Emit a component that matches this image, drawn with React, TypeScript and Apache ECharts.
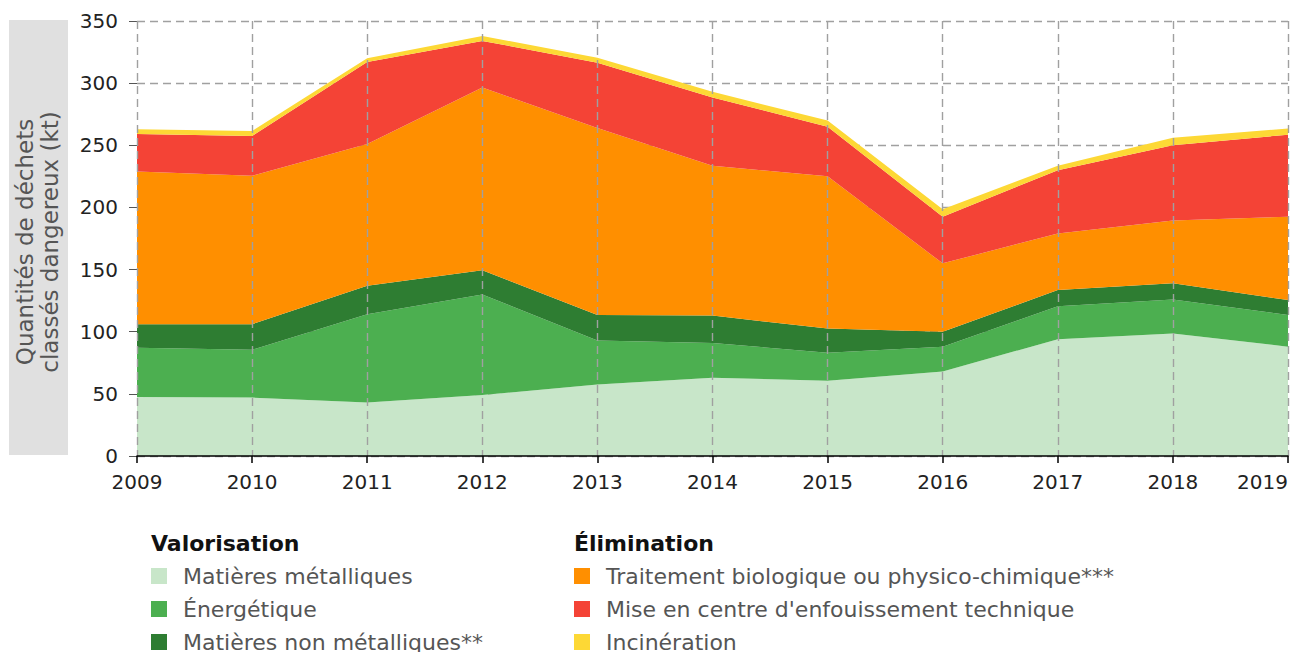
import React, { useEffect, useRef } from "react";
import * as echarts from "echarts";

const years = ["2009", "2010", "2011", "2012", "2013", "2014", "2015", "2016", "2017", "2018", "2019"];
const metalliques = [47.5, 47, 43, 49, 57.5, 63, 60.5, 68, 94, 98.5, 88];
const energetique = [39.5, 38.5, 71, 81, 35.5, 28, 22.5, 20, 26.5, 27.5, 25.5];
const nonMetalliques = [19, 20.5, 23, 19.5, 20.5, 22, 19.5, 12, 13, 13, 12];
const traitement = [123, 119.5, 114, 147, 150.5, 120.5, 122.5, 55, 45.5, 50.5, 67];
const enfouissement = [30, 32, 66, 37.5, 52.5, 55, 40, 37.5, 51, 60.5, 66];
const incineration = [4, 4, 3, 4, 4, 4.5, 5, 6, 3.5, 6, 5];

const valorisationNames = ["Matières métalliques", "Énergétique", "Matières non métalliques**"];
const eliminationNames = [
  "Traitement biologique ou physico-chimique***",
  "Mise en centre d'enfouissement technique",
  "Incinération",
];
const yAxisTitle = ["Quantités de déchets", "classés dangereux (kt)"];

const FONT = "DejaVu Sans";

export default function App() {
  const ref = useRef<HTMLDivElement>(null);
  useEffect(() => {
    if (!ref.current) return;
    const chart = echarts.init(ref.current, null, { renderer: "svg" });
    const seriesDefs = [
      { name: valorisationNames[0], data: metalliques, color: "#c8e6c9" },
      { name: valorisationNames[1], data: energetique, color: "#4caf50" },
      { name: valorisationNames[2], data: nonMetalliques, color: "#2e7d32" },
      { name: eliminationNames[0], data: traitement, color: "#ff8f00" },
      { name: eliminationNames[1], data: enfouissement, color: "#f44336" },
      { name: eliminationNames[2], data: incineration, color: "#fdd835" },
    ];
    const legendBase = {
      orient: "vertical" as const,
      top: 565,
      height: 140,
      padding: 0,
      itemWidth: 16,
      itemHeight: 16,
      itemGap: 11,
      icon: "rect",
      selectedMode: false,
      textStyle: { fontFamily: FONT, fontSize: 22, color: "#555", padding: [0, 0, 0, 11] },
    };
    const gridLine = { show: true, lineStyle: { color: "#a0a0a0", type: [8, 5], width: 1.4 } };
    chart.setOption({
      animation: false,
      textStyle: { fontFamily: FONT },
      grid: { left: 137, right: 2, top: 21, bottom: 196, containLabel: false },
      xAxis: {
        type: "category",
        data: years,
        boundaryGap: false,
        axisLine: { show: true, lineStyle: { color: "#000", width: 1.5 } },
        axisTick: { show: true, length: 7, lineStyle: { color: "#000", width: 1.5 } },
        axisLabel: {
          fontFamily: FONT,
          fontSize: 20,
          color: "#222",
          margin: 16,
          alignMaxLabel: "right",
        },
        splitLine: gridLine,
        z: 10,
      },
      yAxis: {
        type: "value",
        min: 0,
        max: 350,
        interval: 50,
        axisLine: { show: false },
        axisTick: { show: true, length: 8, lineStyle: { color: "#555" } },
        axisLabel: { fontFamily: FONT, fontSize: 20, color: "#222", margin: 19 },
        splitLine: gridLine,
      },
      legend: [
        { ...legendBase, left: 151, data: valorisationNames },
        { ...legendBase, left: 574, data: eliminationNames },
      ],
      graphic: [
        {
          type: "rect",
          shape: { x: 9, y: 20, width: 59, height: 435 },
          style: { fill: "#e0e0e0" },
          silent: true,
        },
        {
          type: "text",
          x: 37.5,
          y: 242,
          rotation: Math.PI / 2,
          style: {
            text: yAxisTitle.join("\n"),
            fontFamily: FONT,
            fontSize: 23,
            lineHeight: 25,
            fill: "#555",
            align: "center",
            verticalAlign: "middle",
          },
          silent: true,
        },
        {
          type: "text",
          left: 151,
          top: 532,
          style: { text: "Valorisation", fontFamily: FONT, fontSize: 22, fontWeight: "bold", fill: "#111" },
        },
        {
          type: "text",
          left: 574,
          top: 532,
          style: { text: "Élimination", fontFamily: FONT, fontSize: 22, fontWeight: "bold", fill: "#111" },
        },
      ],
      series: seriesDefs.map((s) => ({
        name: s.name,
        type: "line",
        stack: "total",
        data: s.data,
        color: s.color,
        showSymbol: false,
        symbol: "none",
        lineStyle: { width: 0 },
        areaStyle: { color: s.color, opacity: 1 },
        emphasis: { disabled: true },
      })),
    });
    return () => chart.dispose();
  }, []);
  return <div ref={ref} style={{ width: 1291, height: 652, position: "absolute", left: 0, top: 0 }} />;
}
